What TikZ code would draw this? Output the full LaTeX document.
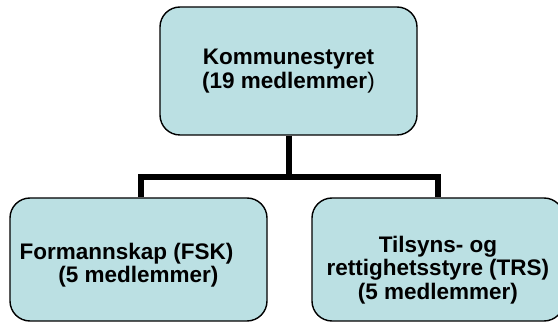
\documentclass[tikz,border=0pt]{standalone}
\usepackage{fontspec}
\setmainfont{Liberation Sans}
\usetikzlibrary{positioning}

\definecolor{boxfill}{RGB}{187,224,227}

\begin{document}
\begin{tikzpicture}[x=1pt,y=1pt,
  orgbox/.style={draw=black, line width=1.4pt, fill=boxfill, rounded corners=20pt,
    align=center, inner sep=0pt,
    font=\fontsize{22.5}{23.5}\selectfont\bfseries},
  link/.style={draw=black, line width=6pt}]
  \useasboundingbox (0,0) rectangle (558,-323);

  \node[orgbox, minimum width=257pt, minimum height=128pt] (ks) at (288.5,-71)
    {Kommunestyret\\(19 medlemmer\textmd{)}};
  \node[orgbox, minimum width=257pt, minimum height=123pt, text height=51pt] (fsk) at (138.5,-259.5)
    {Formannskap (FSK)\hspace*{24pt}\\(5 medlemmer)};
  \node[orgbox, minimum width=252pt, minimum height=123pt, text height=84pt] (trs) at (438,-259.5)
    {Tilsyns- og\\rettighetsstyre (TRS)\\(5 medlemmer)};

  \coordinate (bus) at (ks.south |- 0,-177);
  \path[link] (ks.south) -- (bus);
  \path[link] (bus) -| ([xshift=2.5pt]fsk.north);
  \path[link] (bus) -| (trs.north);
\end{tikzpicture}
\end{document}
